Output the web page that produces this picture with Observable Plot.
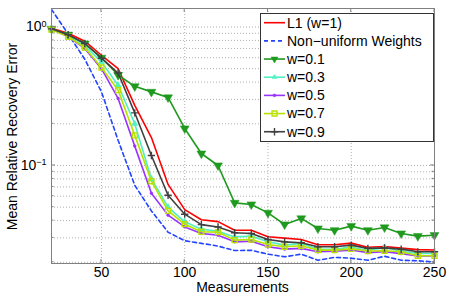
<!DOCTYPE html>
<html><head><meta charset="utf-8">
<script src="https://cdn.jsdelivr.net/npm/d3@7"></script>
<script src="https://cdn.jsdelivr.net/npm/@observablehq/plot@0.6"></script>
<style>
body{margin:0;background:#fff}
svg{font-family:"Liberation Sans",Arial,Helvetica,sans-serif}
</style>
</head><body><div id="chart"></div>
<script>
// ---- data ----
const measurements = [20,30,40,50,60,70,80,90,100,110,120,130,140,150,160,170,180,190,200,210,220,230,240,250];
const seriesNames = ["L1 (w=1)", "Non\u2212uniform Weights", "w=0.1", "w=0.3", "w=0.5", "w=0.7", "w=0.9"];
const l1         = [0.98,0.90,0.79,0.625,0.50,0.272,0.159,0.073,0.048,0.0406,0.0393,0.0341,0.0341,0.0306,0.0299,0.0292,0.0268,0.0268,0.0275,0.0257,0.0260,0.0253,0.0247,0.0245];
const nonUniform = [1.34,0.89,0.585,0.34,0.152,0.072,0.047,0.033,0.0286,0.0274,0.0262,0.0243,0.0244,0.0229,0.0219,0.0229,0.0207,0.0217,0.0214,0.0207,0.0221,0.0207,0.0205,0.0201];
const w01        = [0.97,0.88,0.76,0.60,0.45,0.373,0.34,0.31,0.185,0.122,0.100,0.0537,0.0523,0.0455,0.0375,0.0415,0.0351,0.0341,0.0365,0.0341,0.0357,0.0323,0.0309,0.0314];
const w03        = [0.97,0.86,0.73,0.56,0.38,0.20,0.080,0.050,0.0392,0.0347,0.0335,0.0305,0.0309,0.0281,0.0266,0.0274,0.0248,0.0248,0.0258,0.0243,0.0256,0.0240,0.0232,0.0232];
const w05        = [0.965,0.85,0.70,0.50,0.305,0.138,0.063,0.0438,0.036,0.0323,0.0314,0.0281,0.0284,0.0259,0.0249,0.0252,0.0238,0.0240,0.0245,0.0235,0.0238,0.0231,0.0222,0.0222];
const w07        = [0.96,0.85,0.71,0.51,0.35,0.165,0.077,0.047,0.0377,0.0332,0.0330,0.0289,0.0292,0.0269,0.0259,0.0263,0.0245,0.0245,0.0250,0.0241,0.0242,0.0238,0.0223,0.0223];
const w09        = [0.97,0.88,0.76,0.595,0.465,0.24,0.118,0.061,0.0445,0.0374,0.0360,0.0327,0.0323,0.0292,0.0281,0.0277,0.0259,0.0259,0.0266,0.0252,0.0254,0.0249,0.0238,0.0238];
const xTicks = [50,100,150,200,250];
const yTicks = [1, 0.1];
const yTickLabels = [["10","0"],["10","\u22121"]];
const yMinorTicks = [0.02,0.03,0.04,0.05,0.06,0.07,0.08,0.09,0.2,0.3,0.4,0.5,0.6,0.7,0.8,0.9];
const xLabel = "Measurements";
const yLabel = "Mean Relative Recovery Error";

(function () {
// ---- styles ----
const styles = [
  {color:"#ff0000"},
  {color:"#2244ff", dash:"4,3"},
  {color:"#1f9a1f", symbol:"triangle", rotate:180, r:3.3, fill:true},
  {color:"#50f0c0", symbol:"triangle", r:2.3, fill:true},
  {color:"#9933ff", symbol:"circle", r:1.4, fill:true},
  {color:"#b8e000", symbol:"square", r:2.8, fill:false},
  {color:"#404040", symbol:"plus", r:2.5, fill:false}
];

const values = [l1, nonUniform, w01, w03, w05, w07, w09];
const rows = values.flatMap((vals, s) => vals.map((v, i) => ({series: s, m: measurements[i], err: v})));

const gridStyle = {stroke:"#b0b0b0", strokeOpacity:1, strokeDasharray:"1,2"};
const marks = [
  Plot.gridX(xTicks, gridStyle),
  Plot.gridY([...yMinorTicks, ...yTicks], gridStyle)
];
styles.forEach((st, s) => {
  const data = rows.filter(d => d.series === s);
  marks.push(Plot.lineY(data, {x:"m", y:"err", stroke:st.color, strokeWidth:1.6, strokeDasharray:st.dash, clip:true}));
  if (st.symbol) {
    marks.push(Plot.dot(data, {x:"m", y:"err", symbol:st.symbol, r:st.r, rotate:st.rotate || 0,
      fill: st.fill ? st.color : "none", stroke: st.color, strokeWidth: st.fill ? 0.5 : 1.4}));
  }
});
marks.push(Plot.frame({stroke:"#808080"}));
marks.push(Plot.axisX(xTicks, {tickSize:0, tickPadding:4, label:null, fontSize:14, fill:"#000"}));
marks.push(Plot.axisY(yTicks, {tickSize:0, tickPadding:5, label:null, fontSize:14, fill:"#000",
  tickFormat: d => yTickLabels[yTicks.indexOf(d)].join("^")}));

const chart = Plot.plot({
  width:450, height:298,
  marginLeft:51, marginRight:16, marginTop:8, marginBottom:35,
  style:{fontSize:"14px", fontFamily:'"Liberation Sans",Arial,Helvetica,sans-serif', background:"#fff", overflow:"visible"},
  x:{domain:[20,250]},
  y:{type:"log", domain:[0.0196,1.36]},
  marks
});
document.getElementById("chart").appendChild(chart);

// ---- decorations via the plot's own scales ----
const xs = chart.scale("x"), ys = chart.scale("y");
const [pLeft, pRight] = xs.range;
const [pBottom, pTop] = ys.range;
const svg = d3.select(chart);

svg.selectAll('g[aria-label="y-axis tick label"] text').each(function() {
  const t = d3.select(this);
  const parts = t.text().split("^");
  t.text("");
  t.append("tspan").text(parts[0]);
  t.append("tspan").attr("font-size", 9).attr("dy", "-0.55em").text(parts[1]);
});

const tg = svg.append("g").attr("stroke", "#808080").attr("stroke-width", 1);
xTicks.forEach(v => {
  const x = xs.apply(v);
  tg.append("line").attr("x1", x).attr("x2", x).attr("y1", pBottom).attr("y2", pBottom - 4);
  tg.append("line").attr("x1", x).attr("x2", x).attr("y1", pTop).attr("y2", pTop + 4);
});
[...yTicks.map(v => [v, 4]), ...yMinorTicks.map(v => [v, 2.5])].forEach(([v, len]) => {
  const y = ys.apply(v);
  tg.append("line").attr("x1", pLeft).attr("x2", pLeft + len).attr("y1", y).attr("y2", y);
  tg.append("line").attr("x1", pRight).attr("x2", pRight - len).attr("y1", y).attr("y2", y);
});

svg.append("text").attr("x", (pLeft + pRight) / 2).attr("y", 292).attr("text-anchor", "middle")
  .attr("font-size", 14).attr("fill", "#000").text(xLabel);
svg.append("text").attr("transform", `translate(16.5,${(pTop + pBottom) / 2 + 1}) rotate(-90)`)
  .attr("text-anchor", "middle").attr("font-size", 14).attr("fill", "#000").text(yLabel);

const lg = svg.append("g");
lg.append("rect").attr("x", 260.5).attr("y", 13.5).attr("width", 173).attr("height", 128)
  .attr("fill", "#fff").attr("stroke", "#333").attr("stroke-width", 1);
const symMap = {triangle: d3.symbolTriangle2, circle: d3.symbolCircle, square: d3.symbolSquare, plus: d3.symbolPlus};
styles.forEach((st, s) => {
  const cy = 22.7 + s * 18.17;
  lg.append("line").attr("x1", 264).attr("x2", 285).attr("y1", cy).attr("y2", cy)
    .attr("stroke", st.color).attr("stroke-width", 1.6).attr("stroke-dasharray", st.dash || null);
  if (st.symbol) {
    lg.append("path").attr("d", d3.symbol(symMap[st.symbol], Math.PI * st.r * st.r)())
      .attr("transform", `translate(274.5,${cy}) rotate(${st.rotate || 0})`)
      .attr("fill", st.fill ? st.color : "none").attr("stroke", st.color)
      .attr("stroke-width", st.fill ? 0.5 : 1.4);
  }
  lg.append("text").attr("x", 287).attr("y", cy).attr("dy", "0.35em").attr("font-size", 14)
    .attr("text-anchor", "start").attr("fill", "#000").text(seriesNames[s]);
});
})();
</script>
</body></html>
